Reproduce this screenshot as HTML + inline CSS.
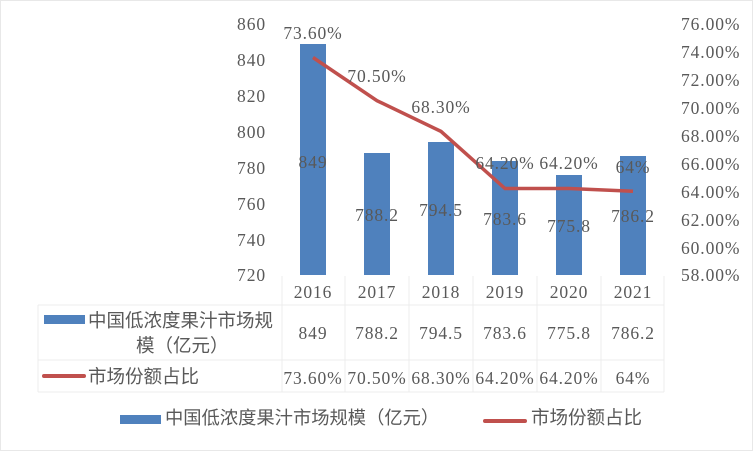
<!DOCTYPE html>
<html><head><meta charset="utf-8"><style>
body{margin:0;background:#fff}
svg text{font-family:"Liberation Serif","Noto Serif CJK SC",serif;fill:#595959;letter-spacing:0.9px}
svg text.cn{font-family:"Liberation Sans","Noto Sans CJK SC",sans-serif;letter-spacing:0}
</style></head><body>
<svg width="753" height="451" viewBox="0 0 753 451" xmlns="http://www.w3.org/2000/svg">
<rect x="0.5" y="0.5" width="752" height="450" fill="#fff" stroke="#e8e8e8"/>
<g font-size="17.5" text-anchor="end">
<text x="266" y="30">860</text><text x="266" y="66">840</text><text x="266" y="102">820</text>
<text x="266" y="138">800</text><text x="266" y="174">780</text><text x="266" y="210">760</text>
<text x="266" y="246">740</text><text x="266" y="281">720</text>
</g>
<g font-size="17.5" text-anchor="start">
<text x="681" y="30">76.00%</text><text x="681" y="58">74.00%</text><text x="681" y="86">72.00%</text>
<text x="681" y="114">70.00%</text><text x="681" y="142">68.00%</text><text x="681" y="170">66.00%</text>
<text x="681" y="198">64.00%</text><text x="681" y="226">62.00%</text><text x="681" y="254">60.00%</text>
<text x="681" y="281">58.00%</text>
</g>
<g fill="#4f81bd">
<rect x="300" y="44" width="26" height="231"/>
<rect x="364" y="153" width="26" height="122"/>
<rect x="428" y="142" width="26" height="133"/>
<rect x="492" y="161" width="26" height="114"/>
<rect x="556" y="175" width="26" height="100"/>
<rect x="620" y="156" width="26" height="119"/>
</g>
<g font-size="17.5" text-anchor="middle">
<text x="313" y="168">849</text><text x="377" y="221">788.2</text><text x="441" y="216">794.5</text>
<text x="505" y="225">783.6</text><text x="569" y="232">775.8</text><text x="633" y="222">786.2</text>
</g>
<polyline points="313,57.5 377,100.7 441,131.4 505,188.5 569,188.5 633,191.3" fill="none" stroke="#c0504d" stroke-width="3.5"/>
<g font-size="17.5" text-anchor="middle">
<text x="313" y="39">73.60%</text><text x="377" y="82">70.50%</text><text x="441" y="113">68.30%</text>
<text x="505" y="169">64.20%</text><text x="569" y="169">64.20%</text><text x="633" y="173">64%</text>
</g>
<g stroke="#ececec" stroke-width="1" fill="none">
<line x1="282" y1="276" x2="282" y2="392"/><line x1="345" y1="276" x2="345" y2="392"/>
<line x1="409" y1="276" x2="409" y2="392"/><line x1="473" y1="276" x2="473" y2="392"/>
<line x1="537" y1="276" x2="537" y2="392"/><line x1="601" y1="276" x2="601" y2="392"/>
<line x1="664" y1="276" x2="664" y2="392"/>
<line x1="38" y1="305" x2="664" y2="305"/><line x1="38" y1="360" x2="664" y2="360"/>
<line x1="38" y1="392" x2="664" y2="392"/><line x1="38" y1="305" x2="38" y2="392"/>
</g>
<g font-size="17.5" text-anchor="middle">
<text x="313" y="298">2016</text><text x="377" y="298">2017</text><text x="441" y="298">2018</text>
<text x="505" y="298">2019</text><text x="569" y="298">2020</text><text x="633" y="298">2021</text>
<text x="313" y="339">849</text><text x="377" y="339">788.2</text><text x="441" y="339">794.5</text>
<text x="505" y="339">783.6</text><text x="569" y="339">775.8</text><text x="633" y="339">786.2</text>
<text x="313" y="384">73.60%</text><text x="377" y="384">70.50%</text><text x="441" y="384">68.30%</text>
<text x="505" y="384">64.20%</text><text x="569" y="384">64.20%</text><text x="633" y="384">64%</text>
</g>
<rect x="44" y="315" width="41" height="9" fill="#4f81bd"/>
<text class="cn" x="88" y="327" font-size="18.5">中国低浓度果汁市场规</text>
<text class="cn" x="136" y="352" font-size="18.5">模（亿元）</text>
<line x1="44" y1="376" x2="84" y2="376" stroke="#c0504d" stroke-width="4" stroke-linecap="round"/>
<text class="cn" x="88" y="383" font-size="18.5">市场份额占比</text>
<rect x="120" y="415" width="41" height="9" fill="#4f81bd"/>
<text class="cn" x="165" y="424" font-size="18.3">中国低浓度果汁市场规模（亿元）</text>
<line x1="485" y1="421" x2="525" y2="421" stroke="#c0504d" stroke-width="4" stroke-linecap="round"/>
<text class="cn" x="531" y="424" font-size="18.5">市场份额占比</text>
</svg>
</body></html>
